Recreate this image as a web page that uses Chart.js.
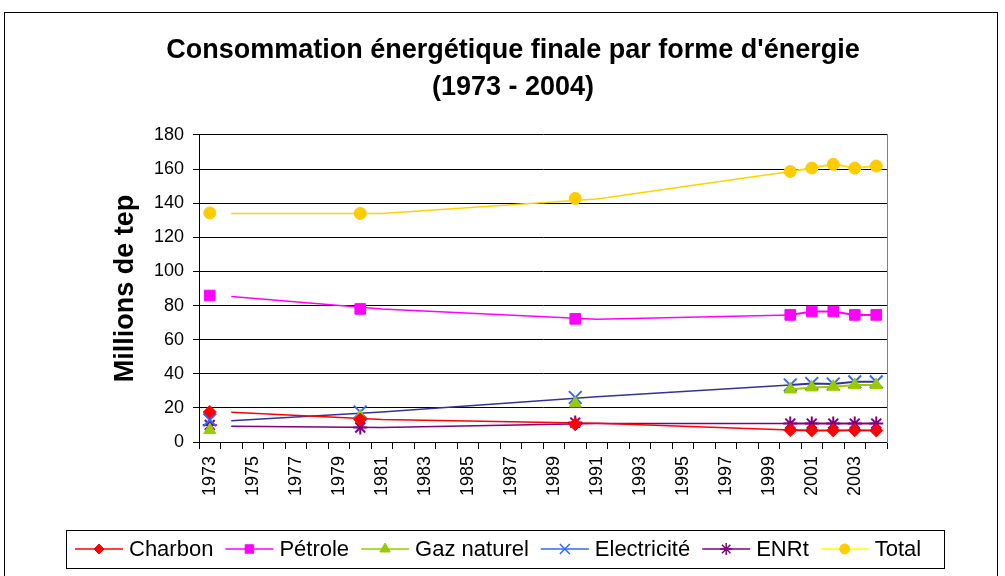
<!DOCTYPE html>
<html>
<head>
<meta charset="utf-8">
<script src="https://cdn.jsdelivr.net/npm/chart.js@4.4.1/dist/chart.umd.min.js"></script>
<style>
html, body { margin: 0; padding: 0; background: #fff; }
</style>
</head>
<body>
<canvas id="chart" width="1005" height="576"></canvas>
<script>
// category axis: every year, only odd years get a label
const years = ['1973','1974','1975','1976','1977','1978','1979','1980','1981','1982','1983','1984',
               '1985','1986','1987','1988','1989','1990','1991','1992','1993','1994','1995','1996',
               '1997','1998','1999','2000','2001','2002','2003','2004'];

// years carrying a marker, and years of the (shifted) connecting line
const markerYears = ['1973','1980','1990','2000','2001','2002','2003','2004'];
const lineYears = ['1974','1981','1991','2000'];

// Millions de tep
const charbon     = [17.6, 13.2, 10.4, 7.0, 6.8, 6.8, 6.9, 6.8];
const petrole     = [85.9, 78.0, 72.2, 74.5, 76.5, 76.5, 74.5, 74.5];
const gaz         = [7.0, 15.0, 22.6, 30.8, 32.0, 32.4, 33.4, 33.4];
const electricite = [13.0, 17.6, 26.1, 33.4, 34.3, 34.0, 35.3, 35.3];
const enrt        = [10.0, 8.5, 11.4, 10.8, 10.8, 10.8, 10.8, 10.8];
const total       = [134.3, 134.0, 142.8, 158.6, 160.6, 162.8, 160.6, 161.8];

const charbonLine     = [17.5, 13.2, 11.0, 7.0];
const petroleLine     = [85.3, 78.0, 72.0, 74.5];
const electriciteLine = [12.4, 17.6, 26.5, 33.4];
const enrtLine        = [9.2, 8.5, 10.8, 10.8];
const totalLine       = [134.0, 134.0, 142.5, 158.6];

const yTicks = [0, 20, 40, 60, 80, 100, 120, 140, 160, 180];

function onYears(xs, ys) {
    return years.map(y => {
        const i = xs.indexOf(y);
        return i < 0 ? null : ys[i];
    });
}

function markers(label, values, line, point, style, radius) {
    return {
        label: label,
        data: onYears(markerYears, values),
        spanGaps: false,
        borderColor: line,
        borderWidth: 2,
        pointStyle: style,
        pointRadius: radius,
        pointHoverRadius: radius,
        pointBackgroundColor: point,
        pointBorderColor: point,
        pointBorderWidth: (style === 'crossRot' || style === 'star') ? 2 : 1
    };
}

function trend(values, color) {
    return {
        label: '',
        data: onYears(lineYears, values),
        spanGaps: true,
        borderColor: color,
        borderWidth: 1.5,
        pointRadius: 0,
        pointHoverRadius: 0
    };
}

const legendItems = [
    { label: 'Charbon',      line: '#FF0000', point: '#FF0000', style: 'rectRot',  r: 5 },
    { label: 'Pétrole',      line: '#FF00FF', point: '#FF00FF', style: 'rect',     r: 6 },
    { label: 'Gaz naturel',  line: '#99CC00', point: '#99CC00', style: 'triangle', r: 6 },
    { label: 'Electricité',  line: '#3366FF', point: '#3366FF', style: 'crossRot', r: 7 },
    { label: 'ENRt',         line: '#800080', point: '#800080', style: 'star',     r: 6 },
    { label: 'Total',        line: '#FFFF00', point: '#FFCC00', style: 'circle',   r: 5 }
];

const frame = {
    id: 'frame',
    beforeDraw(chart) {
        const ctx = chart.ctx;
        ctx.save();
        ctx.fillStyle = '#fff';
        ctx.fillRect(0, 0, chart.width, chart.height);
        ctx.strokeStyle = '#000';
        ctx.lineWidth = 1;
        ctx.strokeRect(4.5, 12.5, 993, 700);
        ctx.restore();
    }
};

const boxLegend = {
    id: 'boxLegend',
    afterDraw(chart) {
        const ctx = chart.ctx;
        ctx.save();
        ctx.strokeStyle = '#000';
        ctx.lineWidth = 1;
        ctx.strokeRect(66.5, 530.5, 878, 38);
        ctx.font = '22px Arial, "Liberation Sans", sans-serif';
        ctx.textBaseline = 'middle';
        ctx.textAlign = 'left';
        let x = 75;
        const y = 549;
        legendItems.forEach(it => {
            ctx.strokeStyle = it.line;
            ctx.lineWidth = 1.5;
            ctx.beginPath();
            ctx.moveTo(x, y);
            ctx.lineTo(x + 48, y);
            ctx.stroke();
            ctx.fillStyle = it.point;
            ctx.strokeStyle = it.point;
            ctx.lineWidth = (it.style === 'crossRot' || it.style === 'star') ? 1.5 : 1;
            Chart.helpers.drawPoint(ctx, { pointStyle: it.style, radius: it.r, borderWidth: ctx.lineWidth, rotation: 0 }, x + 24, y);
            ctx.fillStyle = '#000';
            ctx.fillText(it.label, x + 54, y + 1);
            x += 54 + ctx.measureText(it.label).width + 12;
        });
        ctx.restore();
    }
};

Chart.defaults.font.family = 'Arial, "Liberation Sans", sans-serif';
Chart.defaults.color = '#000';

new Chart('chart', {
    type: 'line',
    data: {
        labels: years,
        datasets: [
            markers('Charbon', charbon, '#FF0000', '#FF0000', 'rectRot', 6.5),
            markers('Pétrole', petrole, '#FF00FF', '#FF00FF', 'rect', 7.5),
            markers('Gaz naturel', gaz, '#99CC00', '#99CC00', 'triangle', 7),
            markers('Electricité', electricite, '#333399', '#3366FF', 'crossRot', 9),
            markers('ENRt', enrt, '#800080', '#800080', 'star', 7),
            markers('Total', total, '#FFDD00', '#FFCC00', 'circle', 6),
            trend(charbonLine, '#FF0000'),
            trend(petroleLine, '#FF00FF'),
            trend(electriciteLine, '#333399'),
            trend(enrtLine, '#800080'),
            trend(totalLine, '#FFD200')
        ]
    },
    options: {
        responsive: false,
        animation: false,
        events: [],
        layout: {
            padding: { left: 21, right: 0, top: 0, bottom: 0 }
        },
        plugins: {
            legend: { display: false },
            tooltip: { enabled: false },
            title: {
                display: true,
                text: ["Consommation énergétique finale par forme d'énergie", '(1973 - 2004)'],
                color: '#000',
                font: { size: 27, weight: 'bold', lineHeight: 1.37 },
                padding: { top: 32, bottom: 29 }
            }
        },
        scales: {
            x: {
                type: 'category',
                offset: true,
                grid: {
                    offset: true,
                    drawOnChartArea: false,
                    drawTicks: true,
                    tickLength: 7,
                    color: '#000'
                },
                border: { color: '#000', width: 1 },
                ticks: {
                    autoSkip: false,
                    minRotation: 90,
                    maxRotation: 90,
                    padding: 7,
                    font: { size: 18 },
                    callback: function (val, i) {
                        return i % 2 === 0 ? this.getLabelForValue(val) : '';
                    }
                },
                afterFit: function (scale) { scale.height = 134; }
            },
            y: {
                min: 0,
                max: 180,
                afterBuildTicks: function (scale) {
                    scale.ticks = yTicks.map(v => ({ value: v }));
                },
                grid: {
                    color: '#000',
                    lineWidth: 1,
                    drawTicks: true,
                    tickLength: 6
                },
                border: { color: '#000', width: 1 },
                ticks: { padding: 9, font: { size: 18 } },
                title: {
                    display: true,
                    text: 'Millions de tep',
                    color: '#000',
                    font: { size: 27, weight: 'bold' },
                    padding: { top: 88, bottom: 0 }
                },
                afterFit: function (scale) { scale.width = 178; }
            },
            y2: {
                position: 'right',
                display: true,
                grid: { drawOnChartArea: false, drawTicks: false },
                border: { color: '#808080', width: 1 },
                ticks: { display: false },
                afterFit: function (scale) { scale.width = 118; }
            }
        }
    },
    plugins: [frame, boxLegend]
});
</script>
</body>
</html>
